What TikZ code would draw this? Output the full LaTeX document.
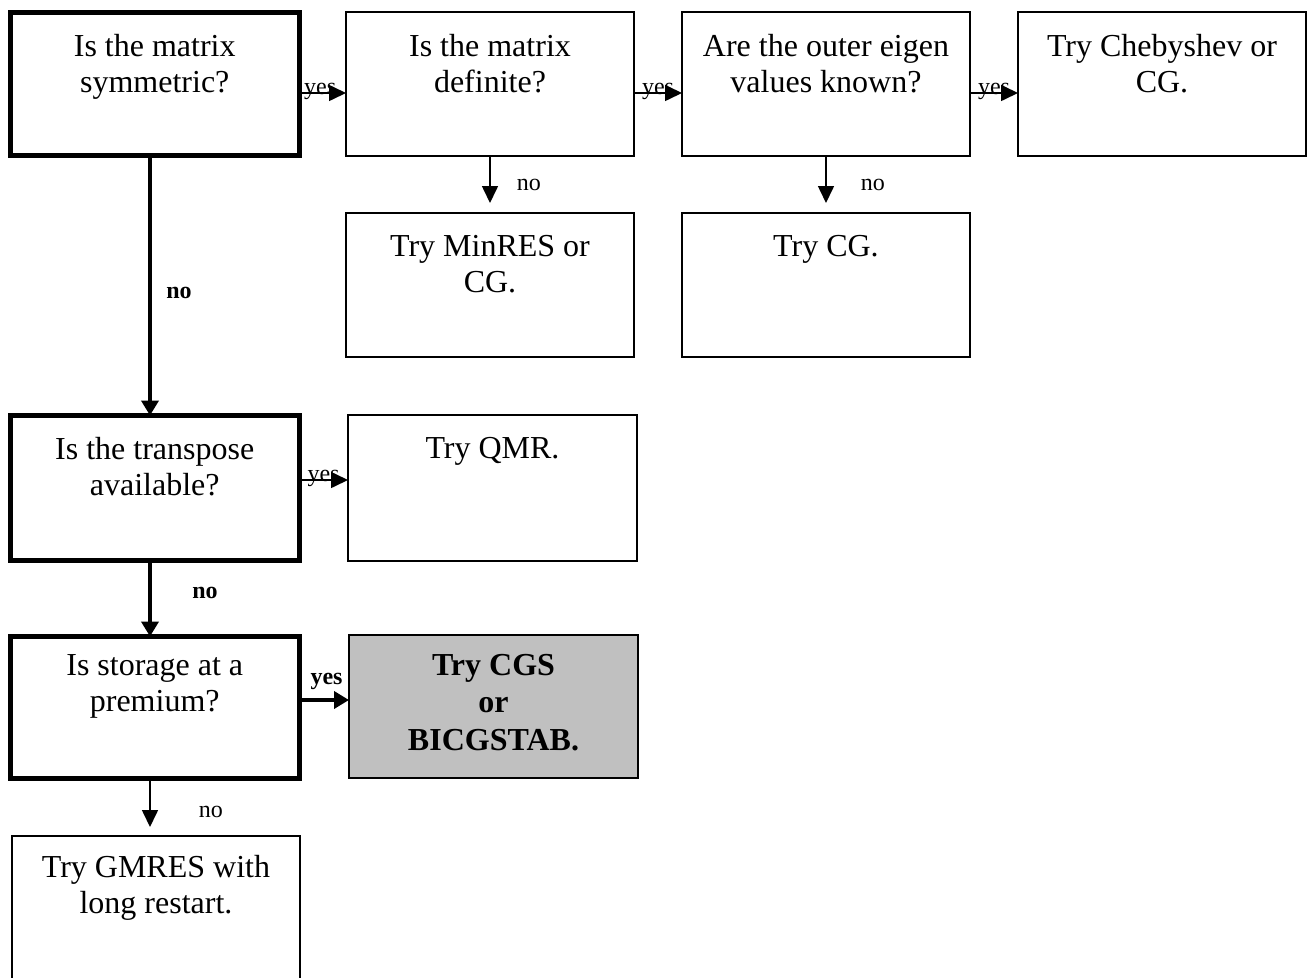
\documentclass[tikz,border=0pt]{standalone}
\usepackage{fontspec}
\setmainfont{Liberation Serif}
\usetikzlibrary{arrows.meta}
\tikzset{
  x=1pt, y=-1pt,
  thinbox/.style={draw, line width=1.8pt, rectangle, inner sep=0pt, outer sep=0pt},
  thickbox/.style={draw, line width=5pt, rectangle, inner sep=0pt, outer sep=0pt},
  boxtext/.style={anchor=north, inner sep=0pt, align=center,
    font=\fontsize{32}{36}\selectfont},
  boldtext/.style={boxtext, font=\fontsize{32}{37.5}\selectfont\bfseries},
  edgelabel/.style={inner sep=0pt, font=\fontsize{24}{26}\selectfont},
  boldlabel/.style={inner sep=0pt, font=\fontsize{24}{26}\selectfont\bfseries},
  thinarrow/.style={line width=1.6pt, -{Triangle[length=17pt,width=16pt]}},
  thickarrow/.style={line width=4.5pt, -{Triangle[length=15pt,width=17pt]}},
}
\newcommand{\boxat}[6]{% name, style, x1, y1, x2, y2
  \node[#2, minimum width={#5-#3}, minimum height={#6-#4}] (#1) at ({(#3+#5)/2},{(#4+#6)/2}) {};}
\begin{document}
\begin{tikzpicture}
\useasboundingbox (0,0) rectangle (1314,977);
\begin{scope}
\clip (0,0) rectangle (1314,977);
% question and answer boxes
\boxat{sym}{thickbox}{10.5}{12}{299}{155}
\boxat{def}{thinbox}{346}{12}{634}{156}
\boxat{eig}{thinbox}{682}{12}{970}{156}
\boxat{cheb}{thinbox}{1018}{12}{1306}{156}
\boxat{minres}{thinbox}{346}{213}{634}{357}
\boxat{cg}{thinbox}{682}{213}{970}{357}
\boxat{trans}{thickbox}{10.5}{415.5}{299}{560}
\boxat{qmr}{thinbox}{348}{415}{637}{561}
\boxat{stor}{thickbox}{10.5}{636.5}{299}{778}
\node[thinbox, fill={rgb,255:red,192;green,192;blue,192}, minimum width=289, minimum height=143] (cgs) at (493.5,706.5) {};
\boxat{gmres}{thinbox}{12}{836}{300}{1000}
\end{scope}

% box texts
\node[boxtext] at ([yshift=-22]sym.north) {Is the matrix\\symmetric?};
\node[boxtext] at ([yshift=-22]def.north) {Is the matrix\\definite?};
\node[boxtext] at ([yshift=-22]eig.north) {Are the outer eigen\\values known?};
\node[boxtext] at ([yshift=-22]cheb.north) {Try Chebyshev or\\CG.};
\node[boxtext] at ([yshift=-22]minres.north) {Try MinRES or\\CG.};
\node[boxtext] at ([yshift=-22]cg.north) {Try CG.};
\node[boxtext] at ([yshift=-22]trans.north) {Is the transpose\\available?};
\node[boxtext] at ([yshift=-22]qmr.north) {Try QMR.};
\node[boxtext] at ([yshift=-18]stor.north) {Is storage at a\\premium?};
\node[boldtext] at ([yshift=-19]cgs.north) {Try CGS\\or\\BICGSTAB.};
\node[boxtext] at ([yshift=-19]gmres.north) {Try GMRES with\\long restart.};

% yes branches
\draw[thinarrow] (sym.east |- 0,93) -- (def.west |- 0,93)
  node[edgelabel, pos=0.45, anchor=base, yshift=-1] {yes};
\draw[thinarrow] (def.east |- 0,93) -- (eig.west |- 0,93)
  node[edgelabel, pos=0.5, anchor=base, yshift=-1] {yes};
\draw[thinarrow] (eig.east |- 0,93) -- (cheb.west |- 0,93)
  node[edgelabel, pos=0.5, anchor=base, yshift=-1] {yes};
\draw[thinarrow] (trans.east |- 0,480) -- (qmr.west |- 0,480)
  node[edgelabel, pos=0.5, anchor=base, yshift=-1] {yes};
\draw[thickarrow] (stor.east |- 0,700) -- (cgs.west |- 0,700)
  node[boldlabel, pos=0.55, anchor=base, yshift=16] {yes};

% no branches
\coordinate (symfoot) at (sym.south -| 150,0);
\coordinate (transhead) at (trans.north -| 150,0);
\coordinate (transfoot) at (trans.south -| 150,0);
\coordinate (storhead) at (stor.north -| 150,0);
\coordinate (storfoot) at (stor.south -| 150,0);
\coordinate (gmreshead) at ([yshift=9]gmres.north -| 150,0);
\draw[thickarrow] (symfoot) -- (transhead)
  node[boldlabel, pos=0.52, right=14pt, yshift=-2] {no};
\draw[thickarrow] (transfoot) -- (storhead)
  node[boldlabel, pos=0.4, right=40pt, yshift=-2] {no};
\draw[thinarrow] (storfoot) -- (gmreshead)
  node[edgelabel, pos=0.5, right=48pt, yshift=-9] {no};
\draw[thinarrow] (def.south) -- ([yshift=10]minres.north)
  node[edgelabel, pos=0.5, right=26pt, yshift=-5] {no};
\draw[thinarrow] (eig.south) -- ([yshift=10]cg.north)
  node[edgelabel, pos=0.5, right=34pt, yshift=-5] {no};
\end{tikzpicture}
\end{document}
